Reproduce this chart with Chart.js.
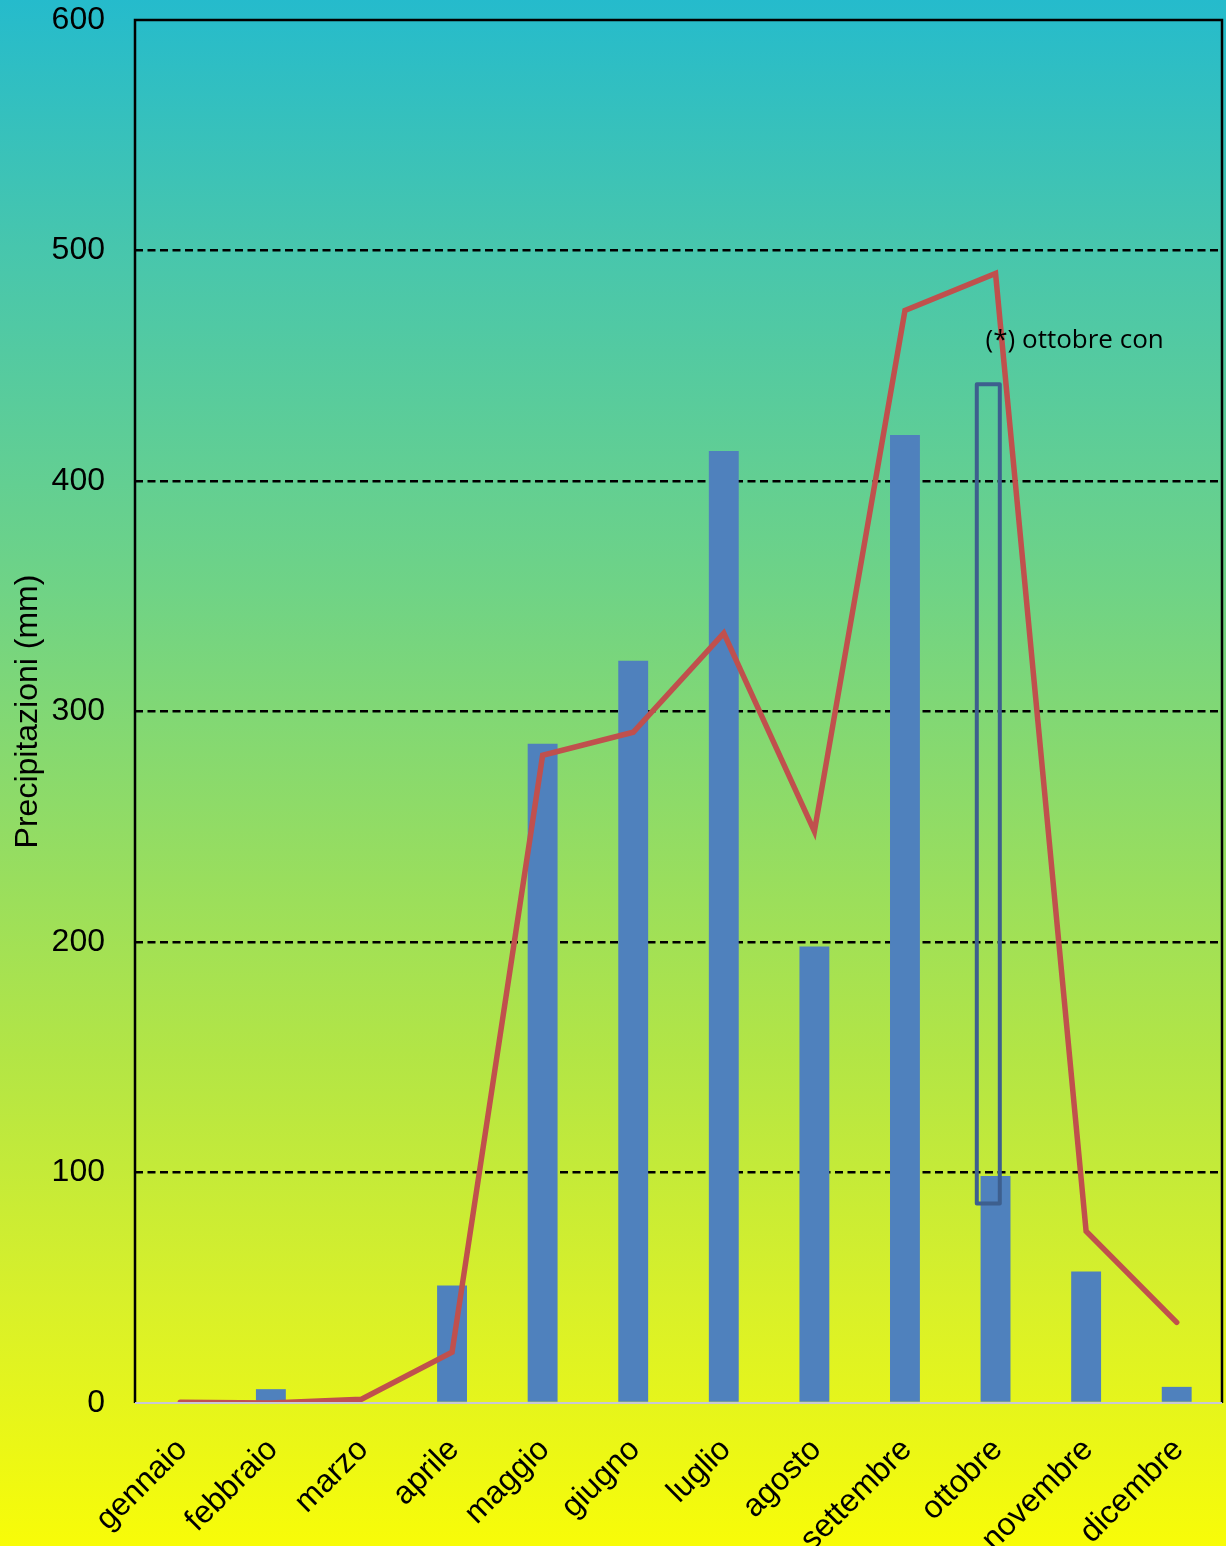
<!DOCTYPE html>
<html>
<head>
<meta charset="utf-8">
<script src="https://cdn.jsdelivr.net/npm/chart.js@4.4.0/dist/chart.umd.min.js"></script>
<style>
  html, body { margin: 0; padding: 0; }
  body {
    width: 1226px; height: 1546px; overflow: hidden;
    background: linear-gradient(to bottom, #25bbcc 0%, #47c6ad 16%, #6fd386 38%, #8edb68 52%, #b2e546 68%, #d8f02a 84%, #f8fc08 100%);
  }
  #wrap { width: 1226px; height: 1546px; position: relative; }
</style>
</head>
<body>
<div id="wrap"><canvas id="c"></canvas></div>
<script>
const months = ['gennaio','febbraio','marzo','aprile','maggio','giugno','luglio','agosto','settembre','ottobre','novembre','dicembre'];
const barValues = [0, 6, 0, 51, 286, 322, 413, 198, 420, 98.5, 57, 7];
const lineValues = [0.3, 0, 1.6, 22, 281, 291, 334, 248, 474, 490, 74.5, 35];
const yTicks = [0, 100, 200, 300, 400, 500, 600];
const yTitle = 'Precipitazioni (mm)';
// annotation box on ottobre: [category index, from, to]
const noteBox = [9, 86.5, 442];
// annotation text: [category index, value, text]
const noteText = [9, 461, '(*) ottobre con'];

const framePlugin = {
  id: 'frame',
  beforeDatasetsDraw(chart) {
    const {ctx, chartArea: a} = chart;
    ctx.save();
    ctx.lineWidth = 2.5;
    ctx.strokeStyle = '#000';
    ctx.beginPath();
    ctx.moveTo(a.left, a.bottom);
    ctx.lineTo(a.left, a.top);
    ctx.lineTo(a.right, a.top);
    ctx.lineTo(a.right, a.bottom);
    ctx.stroke();
    ctx.restore();
  },
  afterDatasetsDraw(chart) {
    const {ctx, chartArea: a, scales: {x, y}} = chart;
    ctx.save();
    ctx.lineWidth = 2;
    ctx.strokeStyle = '#c8c8d4';
    ctx.beginPath();
    ctx.moveTo(a.left, y.getPixelForValue(0));
    ctx.lineTo(a.right, y.getPixelForValue(0));
    ctx.stroke();
    // box
    const cw = (a.right - a.left) / months.length;
    const cx = x.getPixelForValue(noteBox[0]) - cw * 0.08;
    const hw = cw * 0.127;
    const yt = y.getPixelForValue(noteBox[2]);
    const yb = y.getPixelForValue(noteBox[1]);
    ctx.lineWidth = 4;
    ctx.strokeStyle = '#3d5f8e';
    ctx.lineJoin = 'round';
    ctx.strokeRect(cx - hw, yt, hw * 2, yb - yt);
    ctx.restore();
  },
  afterDraw(chart) {
    const {ctx, chartArea: a, scales: {x, y}} = chart;
    const cw = (a.right - a.left) / months.length;
    ctx.save();
    ctx.fillStyle = '#000';
    ctx.font = '26px "Open Sans"';
    ctx.textAlign = 'left';
    ctx.textBaseline = 'middle';
    ctx.fillText(noteText[2], x.getPixelForValue(noteText[0]) - cw * 0.11, y.getPixelForValue(noteText[1]));
    ctx.restore();
  }
};

new Chart(document.getElementById('c'), {
  data: {
    labels: months,
    datasets: [
      {
        type: 'line',
        data: lineValues,
        borderColor: '#c0504d',
        borderWidth: 5.5,
        pointRadius: 0,
        tension: 0,
        borderCapStyle: 'round',
        order: 0
      },
      {
        type: 'bar',
        data: barValues,
        backgroundColor: '#4f81bd',
        borderWidth: 0,
        barPercentage: 0.33,
        categoryPercentage: 1,
        order: 1
      }
    ]
  },
  options: {
    responsive: true,
    maintainAspectRatio: false,
    animation: false,
    events: [],
    layout: { padding: { top: 20, right: 4, left: 0, bottom: 0 } },
    plugins: { legend: { display: false }, tooltip: { enabled: false } },
    scales: {
      x: {
        grid: { display: false, drawTicks: false },
        border: { display: false },
        ticks: {
          autoSkip: false,
          maxRotation: 45,
          minRotation: 45,
          padding: 28,
          labelOffset: 2,
          color: '#000',
          font: { family: '"Liberation Sans", Arial', size: 32 }
        },
        afterFit(s) { s.height = 143; s.paddingLeft = 0; s.paddingRight = 0; }
      },
      y: {
        min: 0,
        max: 600,
        afterBuildTicks(s) { s.ticks = yTicks.map(v => ({ value: v })); },
        grid: {
          drawTicks: false,
          lineWidth: 2.5,
          color: ctx => (ctx.tick && (ctx.tick.value === 0 || ctx.tick.value === 600)) ? 'rgba(0,0,0,0)' : '#000'
        },
        border: { display: false, dash: [8, 4.5] },
        ticks: {
          padding: 30,
          color: '#000',
          font: { family: '"Liberation Sans", Arial', size: 32 }
        },
        title: {
          display: true,
          text: yTitle,
          color: '#000',
          padding: { top: 9, bottom: 0 },
          font: { family: '"Liberation Sans", Arial', size: 32 }
        },
        afterFit(s) { s.width = 135; s.paddingTop = 18; s.paddingBottom = 18; }
      }
    }
  },
  plugins: [framePlugin]
});
</script>
</body>
</html>
